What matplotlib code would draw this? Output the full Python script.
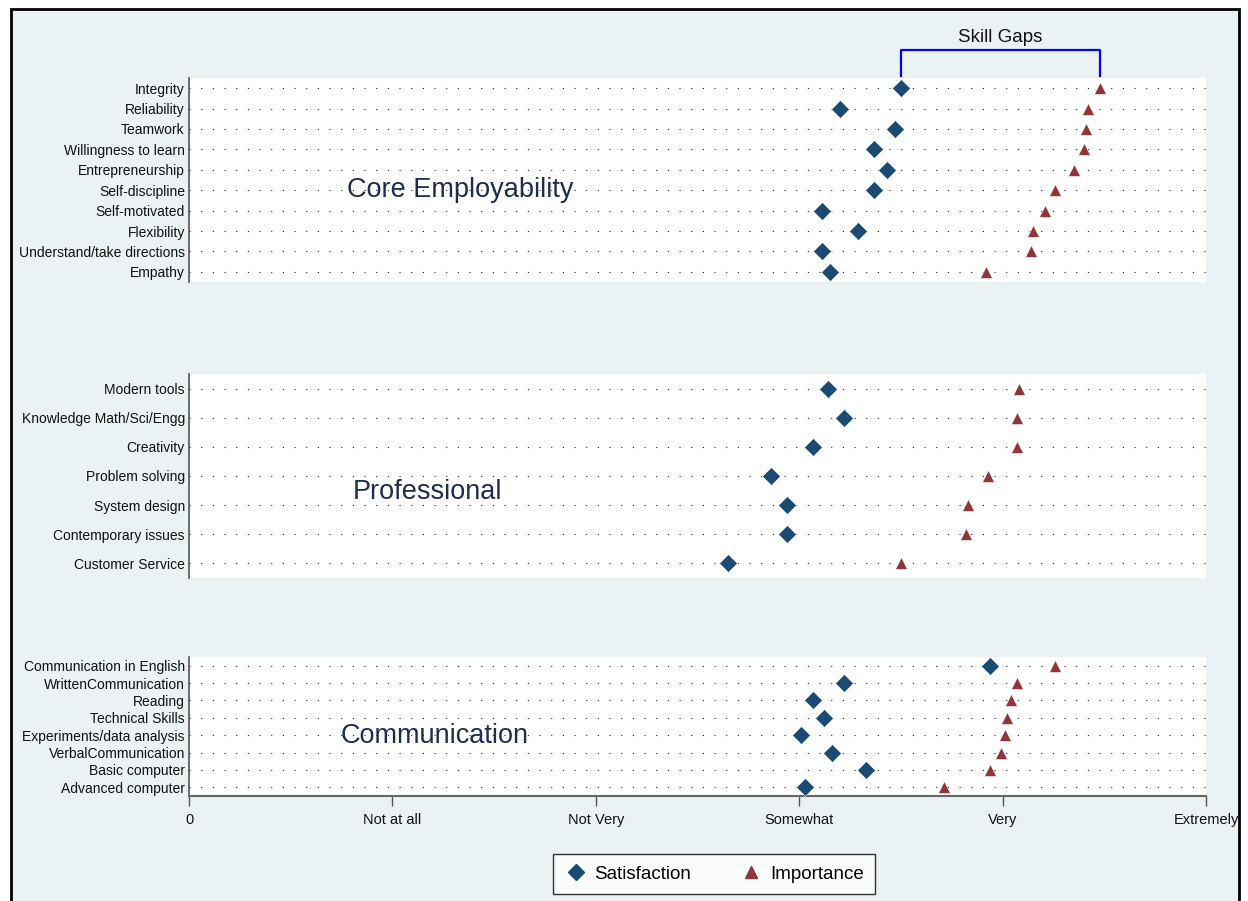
import numpy as np
import matplotlib
matplotlib.use("Agg")
import matplotlib.pyplot as plt
from matplotlib import font_manager
from matplotlib.patches import Rectangle
from matplotlib.lines import Line2D

# Core Employability
core_labels = ["Integrity", "Reliability", "Teamwork", "Willingness to learn",
               "Entrepreneurship", "Self-discipline", "Self-motivated",
               "Flexibility", "Understand/take directions", "Empathy"]
core_sat = [3.50, 3.20, 3.47, 3.37, 3.43, 3.37, 3.11, 3.29, 3.11, 3.15]
core_imp = [4.48, 4.42, 4.41, 4.40, 4.35, 4.26, 4.21, 4.15, 4.14, 3.92]

# Professional
prof_labels = ["Modern tools", "Knowledge Math/Sci/Engg", "Creativity",
               "Problem solving", "System design", "Contemporary issues",
               "Customer Service"]
prof_sat = [3.14, 3.22, 3.07, 2.86, 2.94, 2.94, 2.65]
prof_imp = [4.08, 4.07, 4.07, 3.93, 3.83, 3.82, 3.50]

# Communication
comm_labels = ["Communication in English", "WrittenCommunication", "Reading",
               "Technical Skills", "Experiments/data analysis",
               "VerbalCommunication", "Basic computer", "Advanced computer"]
comm_sat = [3.94, 3.22, 3.07, 3.12, 3.01, 3.16, 3.33, 3.03]
comm_imp = [4.26, 4.07, 4.04, 4.02, 4.01, 3.99, 3.94, 3.71]

scale_ticks = [0, 1, 2, 3, 4, 5]
scale_labels = ["0", "Not at all", "Not Very", "Somewhat", "Very", "Extremely"]

names = {f.name for f in font_manager.fontManager.ttflist}
narrow = "Liberation Sans Narrow" if "Liberation Sans Narrow" in names else "Liberation Sans"
plt.rcParams["font.family"] = ["Liberation Sans", "DejaVu Sans"]

SAT_C = "#1b4a72"
IMP_C = "#90353b"
BG = "#eaf2f3"
W, H = 1248, 901

fig = plt.figure(figsize=(W / 100, H / 100), dpi=100, facecolor="white")
fig.patches.append(Rectangle((11 / W, -0.02), (1239 - 11) / W, (901 - 9) / H + 0.02,
                             transform=fig.transFigure, facecolor=BG,
                             edgecolor="black", linewidth=2.0, zorder=-5))

left, right = 189 / W, 1206 / W


def panel(top_px, bot_px, labels, sat, imp, title, tx, ty, bottom_axis=False):
    ax = fig.add_axes([left, 1 - bot_px / H, right - left, (bot_px - top_px) / H])
    ax.set_facecolor("white")
    y = np.arange(len(labels))
    for yy in y:
        ax.plot([0, 5], [yy, yy], color="#222222", lw=0.8,
                linestyle=(0, (1, 9.5)), zorder=1)
    ax.plot(sat, y, "D", color=SAT_C, ms=9.5, mec="white", mew=0.4, zorder=3)
    ax.plot(imp, y, "^", color=IMP_C, ms=8.5, mec="white", mew=0.4, zorder=3)
    ax.set_xlim(0, 5)
    ax.set_ylim(len(labels) - 0.5, -0.5)
    ax.set_yticks(y)
    ax.set_yticklabels(labels, fontsize=10, color="#111111")
    ax.tick_params(axis="y", length=0, pad=3)
    for s in ["top", "right"]:
        ax.spines[s].set_visible(False)
    ax.spines["left"].set_color("#555555")
    ax.spines["left"].set_linewidth(1.2)
    if bottom_axis:
        ax.spines["bottom"].set_color("#666666")
        ax.spines["bottom"].set_linewidth(1.5)
        ax.set_xticks(scale_ticks)
        ax.set_xticklabels(scale_labels, fontsize=10.5, family=narrow, color="#111111")
        ax.tick_params(axis="x", length=7, width=1, color="#555555", pad=5)
    else:
        ax.spines["bottom"].set_visible(False)
        ax.set_xticks([])
    ax.text(tx, ty, title, fontsize=19.5, color="#1f2d4d", va="center", ha="left", zorder=2)
    return ax


ax1 = panel(78, 282, core_labels, core_sat, core_imp, "Core Employability", 0.775, 5)
ax2 = panel(374, 578, prof_labels, prof_sat, prof_imp, "Professional", 0.805, 3.55)
ax3 = panel(657, 796, comm_labels, comm_sat, comm_imp, "Communication", 0.745, 4.05, bottom_axis=True)

# skill gap bracket over Integrity
tr = ax1.get_xaxis_transform()
x0, x1 = core_sat[0], core_imp[0]
ax1.plot([x0, x0, x1, x1], [1.01, 1.137, 1.137, 1.01], color="blue", lw=1.6,
         transform=tr, clip_on=False)
ax1.text((x0 + x1) / 2, 1.2, "Skill Gaps", transform=tr, ha="center", va="center",
         fontsize=13.5, color="#111111")

handles = [Line2D([], [], marker="D", ls="", color=SAT_C, ms=8, label="Satisfaction"),
           Line2D([], [], marker="^", ls="", color=IMP_C, ms=8, label="Importance")]
leg = fig.legend(handles=handles, loc="center", bbox_to_anchor=(714 / W, 1 - 874 / H),
                 ncol=2, fontsize=13.5, frameon=True, fancybox=False, edgecolor="black",
                 handletextpad=0.4, handlelength=1.2, columnspacing=2.6, borderpad=0.6)
leg.get_frame().set_linewidth(1.0)

fig.savefig("out.png", dpi=100, facecolor="white")
